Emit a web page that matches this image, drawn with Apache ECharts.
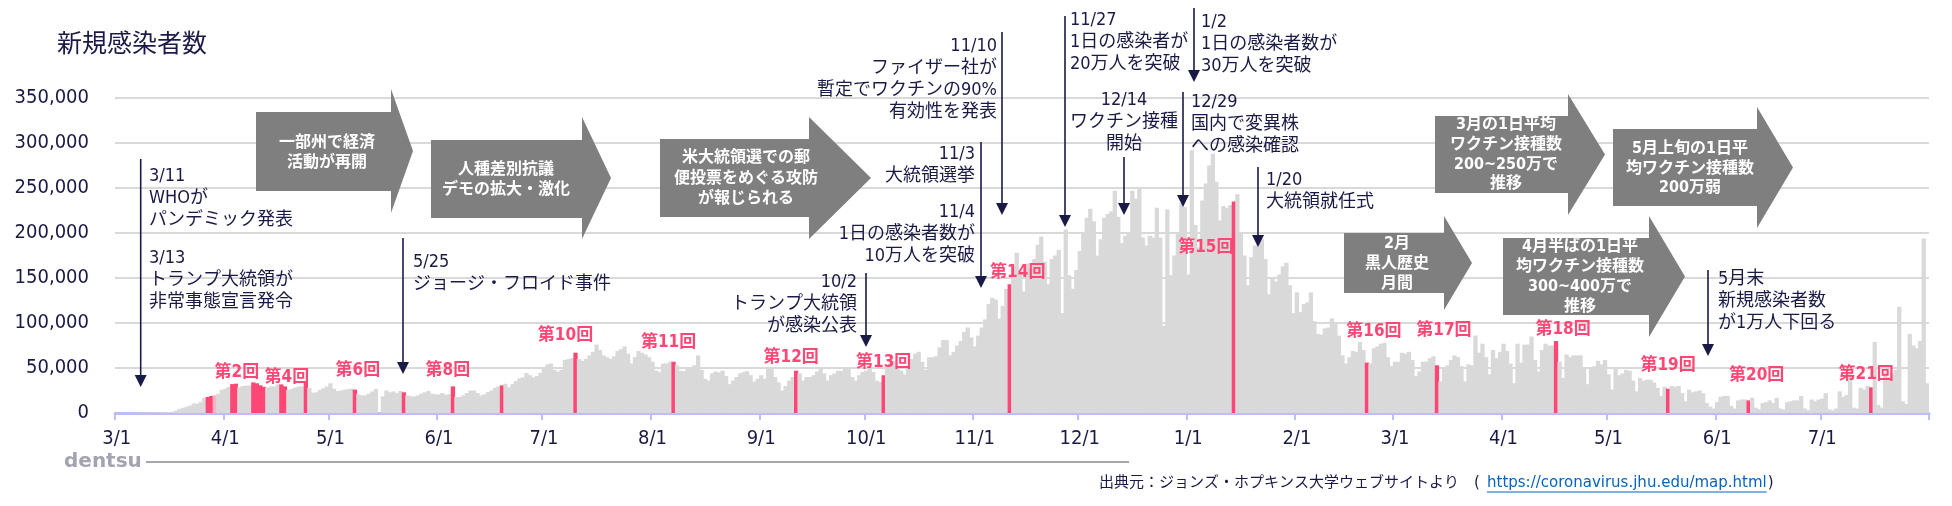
<!DOCTYPE html>
<html>
<head>
<meta charset="utf-8">
<script src="https://cdn.jsdelivr.net/npm/echarts@6/dist/echarts.min.js"></script>
<style>
  html, body { margin: 0; background: #fff; }
  #main { width: 1952px; height: 506px; }
</style>
</head>
<body>
<div id="main"></div>
<script>
// 米国の新規感染者数（日別）
const mar20 = [20,30,30,40,70,70,110,130,200,290,280,420,560,650,800,1100,1600,2800,4600,5800,7100,8300,10600,10300,12100,17000,17800,19000,19600,21400,25700];
const apr20 = [27100,28900,32100,32600,28500,30000,30400,30400,34000,33000,30800,29000,28000,29500,29600,31800,31800,29600,25500,26800,28300,29500,29800,34400,28000,22500,23000,25500,27500,29500];
const may20 = [33000,27000,24400,25000,25900,26500,27000,26000,20700,19600,19600,21500,24000,26800,0,18500,25000,23000,24000,22000,24500,23000,19600,18500,18500,19600,21500,23000,24400,21500,20700];
const jun20 = [20700,22200,20300,21000,29600,17800,17800,19600,22200,25000,25000,22200,19600,20700,23300,25000,28000,29600,30700,32500,28500,32000,35500,38500,39500,44500,42000,39500,41000,44500];
const jul20 = [50000,54000,55000,48000,46000,48000,59000,60000,61000,67000,60000,58000,60000,64000,68000,76000,70000,64000,62000,60000,63000,69000,71000,74000,66000,55000,62000,69000,67000,65000,62000];
const aug20 = [57000,47000,45500,55000,55000,57000,57000,53000,47000,46500,49000,49000,53000,64000,48000,38000,36000,44000,46000,45000,47000,41000,32000,36000,40000,44000,45500,46500,42000,35000,38000];
const sep20 = [42000,38000,49000,51000,40000,34000,25000,30000,36000,40000,47000,44000,36000,40000,40000,42000,46000,50000,44000,36000,42000,44000,47000,47000,51000,49000,40000,36000,42000,45500];
const oct20 = [47000,49000,45500,36000,34500,42000,51000,60000,58000,49000,47000,43000,52000,60000,66000,68000,57000,48000,62000,62000,63000,73000,81000,81000,64000,68000,75000,80000,90000,95000,84000];
const nov20 = [74000,86000,95000,104000,121000,128000,126000,105000,119000,138000,143000,163000,178000,159000,135000,166000,160000,171000,187000,196000,168000,143000,171000,175000,181000,111000,204000,153000,138000,159000];
const dec20 = [180000,200000,217000,227000,213000,175000,193000,217000,221000,224000,247000,218000,189000,197000,199000,247000,238000,251000,195000,186000,197000,195000,228000,195000,97000,226000,153000,175000,199000,233000,229000];
const jan21 = [154000,292000,209000,184000,236000,255000,275000,288000,257000,214000,230000,228000,231000,235000,243000,201000,175000,142000,173000,186000,192000,193000,171000,132000,150000,146000,154000,163000,167000,142000,111000];
const feb21 = [134000,112000,121000,123000,134000,102000,88000,87000,94000,95000,105000,99000,86000,64000,55000,62000,69000,68000,79000,70000,56000,55000,72000,74000,77000,78000,62000,52000];
const mar21 = [57000,57000,67000,66000,68000,59000,41000,46000,57000,57000,61000,63000,53000,35000,51000,53000,59000,64000,62000,52000,35000,54000,53000,86000,67000,77000,62000,43000,70000,61000,68000];
const apr21 = [77000,69000,55000,33000,77000,56000,76000,76000,85000,59000,46000,70000,77000,75000,75000,80000,57000,39000,65000,62000,64000,64000,64000,51000,32000,51000,52000,58000,54000,59000];
const may21 = [43000,26000,50000,42000,44000,48000,47000,36000,24000,39000,36000,37000,37000,34000,28000,19000,29000,27000,30000,29000,30000,22000,13000,26000,23000,24000,25000,22000,11000,7000,5000];
const jun21 = [12000,18000,19000,19000,8000,5000,14000,15000,15000,14000,17000,6000,4000,11000,12000,14000,11000,17000,5000,4000,12000,13000,14000,14000,19000,5000,3000,15000,13000,15000];
const jul21 = [16000,22000,4000,3000,5000,24000,18000,20000,44000,6000,5000,28000,26000,30000,28500,79000,9000,6000,45000,40000,44000,48000,118000,13000,10000,88000,75000,72000,80000,194000,33000];

const monthData = [mar20, apr20, may20, jun20, jul20, aug20, sep20, oct20, nov20, dec20, jan21, feb21, mar21, apr21, may21, jun21, jul21];
const tickLabels = ['3/1','4/1','5/1','6/1','7/1','8/1','9/1','10/1','11/1','12/1','1/1','2/1','3/1','4/1','5/1','6/1','7/1'];

// 調査実施日（第1回〜第21回）
const rounds = [
  ['2020/3/27','2020/3/28'], ['2020/4/3','2020/4/4'], ['2020/4/9','2020/4/10','2020/4/11','2020/4/12'],
  ['2020/4/17','2020/4/18'], ['2020/4/24'], ['2020/5/8'], ['2020/5/22'], ['2020/6/5'], ['2020/6/19'],
  ['2020/7/10'], ['2020/8/7'], ['2020/9/11'], ['2020/10/6'], ['2020/11/11'], ['2021/1/14'],
  ['2021/2/21'], ['2021/3/13'], ['2021/4/16'], ['2021/5/18'], ['2021/6/10'], ['2021/7/15']
];
const partialDays = ['2020/3/29'];
const unlabeledRounds = [1, 3, 5, 7, 9];
// label shift [dx, dy] from the default "top" spot
const labelShift = {
  2:[1,2], 4:[2,5], 6:[3,-6], 8:[-5,-2], 10:[-10,-4], 11:[-5,-6], 12:[-5,0], 13:[0,1],
  14:[8,2], 15:[-28,60], 16:[7,-18], 17:[7,-21], 18:[7,2], 19:[0,-10], 20:[8,-11], 21:[-5,1]
};

const NAVY = '#1a1a46';
const RED = '#ff4775';
const PINK = '#ffb3c4';
const GREY = '#d9d9d9';
const FONT = "'DejaVu Sans Condensed', 'Noto Sans CJK JP', sans-serif";
const SOURCE_URL = 'https://coronavirus.jhu.edu/map.html';

// categories
const cats = [], vals = [], tickAt = [];
monthData.forEach((arr, k) => {
  const year = 2020 + Math.floor((2 + k) / 12);
  const month = (2 + k) % 12 + 1;
  arr.forEach((v, d) => {
    cats.push(year + '/' + month + '/' + (d + 1));
    vals.push(v);
    tickAt.push(d === 0 ? tickLabels[k] : null);
  });
});

const roundOf = {};
rounds.forEach((days, r) => days.forEach(d => { roundOf[d] = r + 1; }));

const shiftAt = {};
const barData = cats.map((c, i) => {
  const r = roundOf[c];
  if (partialDays.includes(c)) return { value: vals[i], itemStyle: { color: PINK } };
  if (!r) return vals[i];
  const item = { value: vals[i], itemStyle: { color: RED } };
  const days = rounds[r - 1];
  if (!unlabeledRounds.includes(r) && c === days[days.length - 1]) {
    shiftAt[i] = labelShift[r];
    item.label = {
      show: true, position: 'top', distance: 5,
      formatter: '第' + r + '回', color: RED, fontSize: 17, fontWeight: 'bold', fontFamily: FONT
    };
  }
  return item;
});

// annotation helpers
function downArrow(x, y1, y2) {
  return [
    { type: 'line', z: 20, shape: { x1: x, y1: y1, x2: x, y2: y2 - 8 }, style: { stroke: NAVY, lineWidth: 1.6 } },
    { type: 'polygon', z: 20, shape: { points: [[x - 6, y2 - 12], [x + 6, y2 - 12], [x, y2]] }, style: { fill: NAVY } }
  ];
}
function note(x, yc, text, align) {
  return { type: 'text', z: 20, x: x, y: yc - 11,
    style: { text: text, fill: NAVY, font: '18px ' + FONT, align: align, verticalAlign: 'top', lineHeight: 22 } };
}
function block(l, r, t, b, ht, hb, tip, cx, y1, lh, text) {
  const my = (ht + hb) / 2;
  return [
    { type: 'polygon', z: 15, shape: { points: [[l, t], [r, t], [r, ht], [tip, my], [r, hb], [r, b], [l, b]] },
      style: { fill: '#7f7f7f' } },
    { type: 'text', z: 16, x: cx, y: y1 - lh / 2,
      style: { text: text, fill: '#fff', font: 'bold 16px ' + FONT, align: 'center', verticalAlign: 'top', lineHeight: lh } }
  ];
}

// width of the link text, for the underline and closing bracket
const urlFont = '15px DejaVu Sans';
const mctx = document.createElement('canvas').getContext('2d');
mctx.font = urlFont;
const urlW = mctx.measureText(SOURCE_URL).width;
const urlX = 1487;

const graphics = [].concat(
  [{ type: 'text', x: 57, y: 45, style: { text: '新規感染者数', fill: NAVY, font: '25px ' + FONT, verticalAlign: 'middle' } }],
  block(256, 391, 112, 191, 89, 213, 413, 327, 143, 20, '一部州で経済\n活動が再開'),
  block(431, 582, 140, 218, 117, 239, 611, 506, 170, 20, '人種差別抗議\nデモの拡大・激化'),
  block(660, 809, 139, 217, 117, 239, 871, 746, 158, 20.5, '米大統領選での郵\n便投票をめぐる攻防\nが報じられる'),
  block(1344, 1444, 233, 293, 216, 310, 1472, 1397, 244, 20, '2月\n黒人歴史\n月間'),
  block(1435, 1568, 116, 193, 94, 215, 1605, 1506, 125, 19.7, '3月の1日平均\nワクチン接種数\n200~250万で\n推移'),
  block(1613, 1757, 129, 206, 107, 228, 1793, 1690, 149, 19.5, '5月上旬の1日平\n均ワクチン接種数\n200万弱'),
  block(1503, 1649, 238, 315, 216, 337, 1685, 1580, 247, 20, '4月半ばの1日平\n均ワクチン接種数\n300~400万で\n推移'),
  downArrow(140.7, 159, 387),
  downArrow(403, 238, 374),
  downArrow(866, 273, 347),
  downArrow(981, 142, 288),
  downArrow(1002, 32, 215),
  downArrow(1065, 16, 227),
  downArrow(1124, 157, 215),
  downArrow(1183, 92, 207),
  downArrow(1194, 8, 82),
  downArrow(1258, 167, 247),
  downArrow(1708, 270, 356),
  [
    note(149, 176, '3/11\nWHOが\nパンデミック発表', 'left'),
    note(149, 258, '3/13\nトランプ大統領が\n非常事態宣言発令', 'left'),
    note(413, 262, '5/25\nジョージ・フロイド事件', 'left'),
    note(857, 282, '10/2\nトランプ大統領\nが感染公表', 'right'),
    note(975, 154, '11/3\n大統領選挙', 'right'),
    note(975, 212, '11/4\n1日の感染者数が\n10万人を突破', 'right'),
    note(997, 46, '11/10\nファイザー社が\n暫定でワクチンの90%\n有効性を発表', 'right'),
    note(1070, 20, '11/27\n1日の感染者が\n20万人を突破', 'left'),
    note(1124, 100, '12/14\nワクチン接種\n開始', 'center'),
    note(1191, 102, '12/29\n国内で変異株\nへの感染確認', 'left'),
    note(1201, 22, '1/2\n1日の感染者数が\n30万人を突破', 'left'),
    note(1266, 180, '1/20\n大統領就任式', 'left'),
    note(1718, 279, '5月末\n新規感染者数\nが1万人下回る', 'left')
  ],
  [
    { type: 'text', x: 64, y: 462, style: { text: 'dentsu', fill: '#a3a3b1', font: 'bold 20px DejaVu Sans', verticalAlign: 'middle' } },
    { type: 'line', shape: { x1: 146, y1: 462, x2: 1129, y2: 462 }, style: { stroke: '#a6a6b2', lineWidth: 2 } },
    { type: 'text', x: 1099, y: 483, style: { text: '出典元：ジョンズ・ホプキンス大学ウェブサイトより', fill: NAVY, font: '15px ' + FONT, verticalAlign: 'middle' } },
    { type: 'text', x: urlX - 13, y: 483, style: { text: '(', fill: NAVY, font: urlFont, verticalAlign: 'middle' } },
    { type: 'text', x: urlX, y: 483, style: { text: SOURCE_URL, fill: '#0563c1', font: urlFont, verticalAlign: 'middle' } },
    { type: 'line', shape: { x1: urlX, y1: 492, x2: urlX + urlW, y2: 492 }, style: { stroke: '#0563c1', lineWidth: 1 } },
    { type: 'text', x: urlX + urlW + 1, y: 483, style: { text: ')', fill: NAVY, font: urlFont, verticalAlign: 'middle' } }
  ]
);

const chart = echarts.init(document.getElementById('main'));
chart.setOption({
  animation: false,
  backgroundColor: '#fff',
  grid: { left: 115, right: 23, top: 98, bottom: 93 },
  xAxis: {
    type: 'category',
    data: cats,
    boundaryGap: true,
    axisLine: { lineStyle: { color: '#bdbdfb', width: 3 } },
    axisTick: { show: true, length: 7, interval: (i) => tickAt[i] !== null, lineStyle: { color: '#bdbdfb', width: 2 } },
    axisLabel: {
      interval: (i) => tickAt[i] !== null,
      formatter: (v, i) => tickAt[i],
      color: NAVY, fontSize: 20, fontFamily: FONT, margin: 16
    },
    splitLine: { show: false }
  },
  yAxis: {
    type: 'value',
    min: 0, max: 350000, interval: 50000,
    axisLine: { show: false },
    axisTick: { show: false },
    axisLabel: {
      formatter: (v) => v.toLocaleString('en-US'),
      color: NAVY, fontSize: 20, fontFamily: FONT, margin: 26
    },
    splitLine: { lineStyle: { color: GREY, width: 2 } }
  },
  series: [{
    type: 'bar',
    data: barData,
    barWidth: 4.3,
    itemStyle: { color: GREY },
    emphasis: { disabled: true },
    labelLayout: (p) => {
      const s = shiftAt[p.dataIndex];
      return s ? { dx: s[0], dy: s[1] } : {};
    }
  }],
  graphic: graphics
});
</script>
</body>
</html>
